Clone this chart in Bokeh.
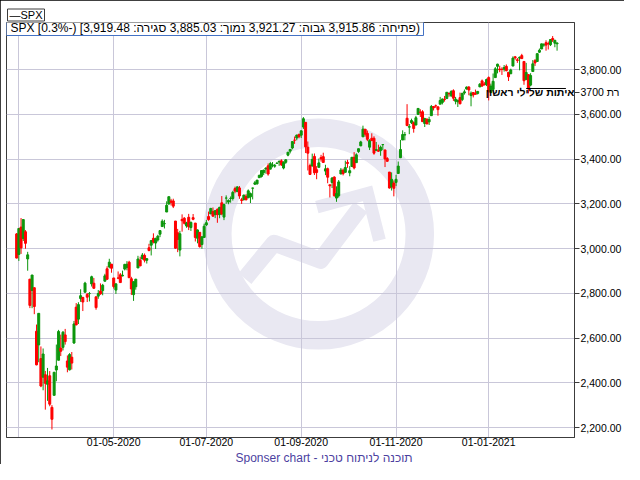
from bokeh.plotting import figure
from bokeh.models import (Range1d, FixedTicker, NumeralTickFormatter, Label, ColumnDataSource,
                          Title, BoxAnnotation)
from bokeh.embed import file_html
from bokeh.resources import INLINE

# ---------------- data (SPX daily candles) ----------------
dates = [
    "2020-02-28",
    "2020-03-02", "2020-03-03", "2020-03-04", "2020-03-05", "2020-03-06", "2020-03-09", "2020-03-10", "2020-03-11",
    "2020-03-12", "2020-03-13", "2020-03-16", "2020-03-17", "2020-03-18", "2020-03-19", "2020-03-20", "2020-03-23",
    "2020-03-24", "2020-03-25", "2020-03-26", "2020-03-27", "2020-03-30", "2020-03-31",
    "2020-04-01", "2020-04-02", "2020-04-03", "2020-04-06", "2020-04-07", "2020-04-08", "2020-04-09", "2020-04-13",
    "2020-04-14", "2020-04-15", "2020-04-16", "2020-04-17", "2020-04-20", "2020-04-21", "2020-04-22", "2020-04-23",
    "2020-04-24", "2020-04-27", "2020-04-28", "2020-04-29", "2020-04-30",
    "2020-05-01", "2020-05-04", "2020-05-05", "2020-05-06", "2020-05-07", "2020-05-08", "2020-05-11", "2020-05-12",
    "2020-05-13", "2020-05-14", "2020-05-15", "2020-05-18", "2020-05-19", "2020-05-20", "2020-05-21", "2020-05-22",
    "2020-05-26", "2020-05-27", "2020-05-28", "2020-05-29",
    "2020-06-01", "2020-06-02", "2020-06-03", "2020-06-04", "2020-06-05", "2020-06-08", "2020-06-09", "2020-06-10",
    "2020-06-11", "2020-06-12", "2020-06-15", "2020-06-16", "2020-06-17", "2020-06-18", "2020-06-19", "2020-06-22",
    "2020-06-23", "2020-06-24", "2020-06-25", "2020-06-26", "2020-06-29", "2020-06-30",
    "2020-07-01", "2020-07-02", "2020-07-06", "2020-07-07", "2020-07-08", "2020-07-09", "2020-07-10", "2020-07-13",
    "2020-07-14", "2020-07-15", "2020-07-16", "2020-07-17", "2020-07-20", "2020-07-21", "2020-07-22", "2020-07-23",
    "2020-07-24", "2020-07-27", "2020-07-28", "2020-07-29", "2020-07-30", "2020-07-31",
    "2020-08-03", "2020-08-04", "2020-08-05", "2020-08-06", "2020-08-07", "2020-08-10", "2020-08-11", "2020-08-12",
    "2020-08-13", "2020-08-14", "2020-08-17", "2020-08-18", "2020-08-19", "2020-08-20", "2020-08-21", "2020-08-24",
    "2020-08-25", "2020-08-26", "2020-08-27", "2020-08-28", "2020-08-31",
    "2020-09-01", "2020-09-02", "2020-09-03", "2020-09-04", "2020-09-08", "2020-09-09", "2020-09-10", "2020-09-11",
    "2020-09-14", "2020-09-15", "2020-09-16", "2020-09-17", "2020-09-18", "2020-09-21", "2020-09-22", "2020-09-23",
    "2020-09-24", "2020-09-25", "2020-09-28", "2020-09-29", "2020-09-30",
    "2020-10-01", "2020-10-02", "2020-10-05", "2020-10-06", "2020-10-07", "2020-10-08", "2020-10-09", "2020-10-12",
    "2020-10-13", "2020-10-14", "2020-10-15", "2020-10-16", "2020-10-19", "2020-10-20", "2020-10-21", "2020-10-22",
    "2020-10-23", "2020-10-26", "2020-10-27", "2020-10-28", "2020-10-29", "2020-10-30",
    "2020-11-02", "2020-11-03", "2020-11-04", "2020-11-05", "2020-11-06", "2020-11-09", "2020-11-10", "2020-11-11",
    "2020-11-12", "2020-11-13", "2020-11-16", "2020-11-17", "2020-11-18", "2020-11-19", "2020-11-20", "2020-11-23",
    "2020-11-24", "2020-11-25", "2020-11-27", "2020-11-30",
    "2020-12-01", "2020-12-02", "2020-12-03", "2020-12-04", "2020-12-07", "2020-12-08", "2020-12-09", "2020-12-10",
    "2020-12-11", "2020-12-14", "2020-12-15", "2020-12-16", "2020-12-17", "2020-12-18", "2020-12-21", "2020-12-22",
    "2020-12-23", "2020-12-24", "2020-12-28", "2020-12-29", "2020-12-30", "2020-12-31",
    "2021-01-04", "2021-01-05", "2021-01-06", "2021-01-07", "2021-01-08", "2021-01-11", "2021-01-12", "2021-01-13",
    "2021-01-14", "2021-01-15", "2021-01-19", "2021-01-20", "2021-01-21", "2021-01-22", "2021-01-25", "2021-01-26",
    "2021-01-27", "2021-01-28", "2021-01-29",
    "2021-02-01", "2021-02-02", "2021-02-03", "2021-02-04", "2021-02-05", "2021-02-08", "2021-02-09", "2021-02-10",
    "2021-02-11", "2021-02-12", "2021-02-16", "2021-02-17", "2021-02-18",
]

opens = [
    3066.0,
    2974.28, 3096.46, 3045.75, 3075.70, 2954.20, 2863.89, 2813.48, 2825.60, 2630.86, 2569.99, 2508.59, 2425.66,
    2436.50, 2393.48, 2431.94, 2290.71, 2344.44, 2457.77, 2501.29, 2555.87, 2558.98, 2614.69,
    2498.08, 2458.54, 2514.92, 2578.28, 2738.65, 2685.00, 2776.99, 2782.46, 2805.10, 2795.64, 2799.34, 2842.43,
    2845.62, 2784.81, 2787.89, 2810.42, 2812.64, 2854.65, 2909.96, 2918.46, 2930.91,
    2869.09, 2815.01, 2868.88, 2883.14, 2878.26, 2908.83, 2915.46, 2939.50, 2865.86, 2794.54, 2829.95, 2913.86,
    2948.59, 2953.63, 2969.95, 2948.05, 3004.08, 3015.65, 3046.61, 3025.17,
    3038.78, 3064.78, 3098.90, 3111.56, 3163.84, 3199.92, 3213.32, 3213.42, 3123.53, 3071.04, 2993.76, 3131.00,
    3136.13, 3101.64, 3140.29, 3094.42, 3138.70, 3114.40, 3046.60, 3073.20, 3018.59, 3050.20,
    3105.92, 3143.64, 3155.29, 3166.44, 3153.07, 3176.17, 3152.47, 3205.08, 3141.11, 3225.98, 3208.36, 3224.21,
    3224.29, 3268.52, 3254.86, 3271.64, 3218.58, 3219.84, 3234.27, 3227.22, 3231.76, 3270.45,
    3288.26, 3289.92, 3317.37, 3323.17, 3340.05, 3356.04, 3370.34, 3355.46, 3372.95, 3368.66, 3380.86, 3387.04,
    3392.51, 3360.48, 3386.01, 3418.09, 3435.95, 3449.97, 3485.14, 3494.69, 3509.73,
    3507.44, 3543.76, 3564.74, 3453.60, 3371.88, 3369.82, 3412.56, 3352.70, 3363.56, 3407.73, 3411.23, 3346.86,
    3357.38, 3285.57, 3295.75, 3320.11, 3226.14, 3236.66, 3333.90, 3350.92, 3341.21,
    3385.87, 3338.94, 3367.27, 3408.74, 3384.56, 3434.28, 3459.67, 3500.02, 3534.01, 3515.47, 3453.72, 3493.50,
    3493.66, 3439.38, 3439.91, 3438.50, 3464.90, 3441.42, 3403.15, 3342.48, 3277.17, 3293.59,
    3296.20, 3336.25, 3406.46, 3485.74, 3508.34, 3583.04, 3543.26, 3563.22, 3562.67, 3552.57, 3600.16, 3610.31,
    3612.09, 3559.41, 3579.31, 3566.82, 3594.52, 3635.50, 3638.55, 3634.18,
    3645.87, 3653.78, 3668.28, 3670.94, 3694.73, 3683.05, 3705.98, 3659.13, 3656.08, 3675.27, 3666.41, 3696.25,
    3713.65, 3722.39, 3684.28, 3698.08, 3693.42, 3694.03, 3723.03, 3750.01, 3736.19, 3733.27,
    3764.61, 3698.02, 3712.20, 3764.71, 3815.05, 3803.14, 3801.62, 3802.23, 3814.98, 3788.73, 3781.88, 3816.22,
    3857.46, 3844.24, 3851.68, 3862.96, 3836.83, 3755.75, 3778.05,
    3731.17, 3791.84, 3840.27, 3836.66, 3878.30, 3892.59, 3910.49, 3920.78, 3916.40, 3911.65, 3939.61, 3918.50,
    3915.86,
]

highs = [
    3070.0,
    3090.96, 3136.72, 3130.97, 3083.04, 2985.93, 2863.89, 2882.59, 2825.60, 2660.95, 2711.33, 2562.98, 2553.93,
    2453.57, 2466.97, 2453.01, 2300.73, 2449.71, 2571.42, 2637.01, 2615.91, 2631.80, 2641.39,
    2522.75, 2533.22, 2538.18, 2676.85, 2756.89, 2760.75, 2818.57, 2782.46, 2851.85, 2801.88, 2806.51, 2879.22,
    2868.98, 2785.54, 2815.10, 2844.90, 2842.71, 2887.72, 2921.15, 2954.86, 2930.91,
    2869.09, 2844.24, 2898.23, 2891.11, 2901.92, 2932.16, 2944.25, 2945.82, 2874.14, 2852.80, 2865.01, 2968.09,
    2964.21, 2980.29, 2978.50, 2956.76, 3021.72, 3036.25, 3068.67, 3049.17,
    3062.18, 3081.07, 3130.94, 3128.91, 3211.72, 3233.13, 3222.71, 3223.27, 3123.53, 3088.42, 3079.76, 3153.45,
    3141.16, 3120.00, 3155.53, 3120.92, 3154.90, 3115.01, 3086.25, 3073.73, 3053.89, 3111.51,
    3128.44, 3165.81, 3182.59, 3184.15, 3171.80, 3179.78, 3186.82, 3235.32, 3200.95, 3238.28, 3220.39, 3233.52,
    3258.61, 3277.29, 3279.32, 3279.99, 3227.26, 3241.43, 3243.72, 3264.74, 3250.92, 3272.17,
    3302.73, 3306.84, 3330.77, 3351.03, 3352.54, 3363.29, 3381.01, 3387.89, 3387.24, 3378.51, 3387.59, 3395.06,
    3399.54, 3390.80, 3399.96, 3432.09, 3444.21, 3481.07, 3501.38, 3509.23, 3514.77,
    3528.03, 3588.11, 3564.85, 3479.15, 3379.97, 3424.77, 3425.55, 3368.95, 3402.93, 3419.48, 3428.92, 3375.17,
    3362.27, 3285.57, 3320.31, 3323.35, 3278.70, 3306.88, 3360.74, 3357.92, 3393.56,
    3397.18, 3369.10, 3409.57, 3431.56, 3426.26, 3447.28, 3482.34, 3549.85, 3534.01, 3527.94, 3489.08, 3515.76,
    3502.42, 3476.93, 3464.86, 3460.53, 3466.46, 3441.42, 3409.51, 3342.48, 3341.05, 3304.93,
    3330.14, 3389.49, 3486.25, 3529.05, 3521.58, 3645.99, 3557.22, 3581.16, 3569.02, 3593.66, 3628.51, 3623.11,
    3619.09, 3585.22, 3581.23, 3589.81, 3642.31, 3635.50, 3644.31, 3634.18,
    3678.45, 3670.96, 3682.73, 3699.20, 3697.41, 3708.45, 3712.39, 3678.49, 3665.91, 3697.61, 3695.29, 3711.27,
    3725.12, 3726.70, 3702.90, 3698.26, 3711.24, 3703.82, 3740.51, 3756.12, 3744.63, 3760.20,
    3769.99, 3737.83, 3783.04, 3811.55, 3826.69, 3817.86, 3810.78, 3820.96, 3823.60, 3788.73, 3804.53, 3859.75,
    3861.45, 3852.31, 3859.23, 3870.90, 3836.83, 3830.50, 3778.05,
    3784.32, 3843.09, 3847.51, 3872.42, 3894.56, 3915.77, 3918.35, 3931.50, 3925.99, 3937.23, 3950.43, 3933.61,
    3921.27,
]

lows = [
    2957.0,
    2945.19, 2976.63, 3034.38, 2999.83, 2901.54, 2734.43, 2734.00, 2707.22, 2478.86, 2492.37, 2380.94, 2367.04,
    2280.52, 2319.78, 2295.56, 2191.86, 2344.44, 2407.53, 2500.72, 2520.02, 2545.28, 2571.15,
    2447.49, 2455.79, 2459.96, 2574.57, 2657.67, 2663.30, 2762.36, 2721.17, 2805.10, 2761.54, 2764.32, 2830.88,
    2820.43, 2727.10, 2775.95, 2794.26, 2791.76, 2852.89, 2860.71, 2912.16, 2892.47,
    2821.61, 2797.85, 2863.55, 2847.65, 2876.48, 2902.88, 2903.44, 2869.59, 2793.15, 2766.64, 2816.78, 2913.86,
    2922.35, 2953.63, 2938.57, 2933.59, 2988.17, 2969.75, 3023.40, 2998.61,
    3031.54, 3051.64, 3098.90, 3090.41, 3163.84, 3196.00, 3193.11, 3181.49, 2999.49, 2984.47, 2965.66, 3076.06,
    3108.03, 3093.51, 3083.11, 3079.39, 3127.12, 3032.13, 3024.01, 3004.63, 2999.74, 3047.83,
    3101.17, 3124.52, 3155.29, 3142.93, 3136.53, 3115.70, 3136.22, 3149.43, 3127.66, 3200.76, 3198.59, 3205.65,
    3215.16, 3247.77, 3253.10, 3222.66, 3200.05, 3214.25, 3216.17, 3227.22, 3204.13, 3220.26,
    3284.53, 3286.37, 3317.37, 3318.14, 3328.72, 3335.44, 3326.44, 3355.46, 3363.35, 3361.64, 3379.22, 3370.15,
    3369.66, 3354.69, 3379.31, 3413.13, 3425.84, 3444.15, 3468.35, 3484.32, 3493.25,
    3494.60, 3535.23, 3427.41, 3349.63, 3329.27, 3366.84, 3329.25, 3310.47, 3363.56, 3389.25, 3384.45, 3328.82,
    3292.40, 3229.10, 3270.95, 3232.57, 3209.45, 3228.44, 3332.91, 3327.54, 3340.47,
    3361.39, 3323.69, 3367.27, 3354.54, 3384.56, 3428.15, 3458.07, 3499.61, 3500.86, 3480.55, 3440.89, 3480.45,
    3419.93, 3435.65, 3433.06, 3415.34, 3440.45, 3364.86, 3388.71, 3268.89, 3259.82, 3233.94,
    3279.74, 3336.25, 3405.17, 3485.74, 3484.34, 3547.48, 3511.91, 3557.00, 3518.58, 3552.57, 3600.16, 3588.68,
    3567.33, 3543.84, 3556.85, 3552.77, 3594.52, 3617.76, 3629.33, 3594.39,
    3645.87, 3644.84, 3657.17, 3670.94, 3678.88, 3678.83, 3660.54, 3645.18, 3633.40, 3645.84, 3659.62, 3688.57,
    3710.87, 3685.84, 3636.48, 3676.16, 3689.28, 3689.32, 3723.03, 3723.31, 3730.21, 3726.88,
    3662.71, 3695.07, 3705.34, 3764.71, 3783.60, 3789.02, 3776.51, 3791.50, 3792.86, 3749.62, 3780.37, 3816.22,
    3845.05, 3830.41, 3797.16, 3847.78, 3732.48, 3755.75, 3694.12,
    3725.62, 3791.84, 3816.68, 3836.66, 3874.93, 3892.59, 3902.64, 3884.94, 3890.39, 3905.78, 3923.85, 3900.43,
    3885.03,
]

closes = [
    2958.0,
    3090.23, 3003.37, 3130.12, 3023.94, 2972.37, 2746.56, 2882.23, 2741.38, 2480.64, 2711.02, 2386.13, 2529.19,
    2398.10, 2409.39, 2304.92, 2237.40, 2447.33, 2475.56, 2630.07, 2541.47, 2626.65, 2584.59,
    2470.50, 2526.90, 2488.65, 2663.68, 2659.41, 2749.98, 2789.82, 2761.63, 2846.06, 2783.36, 2799.55, 2874.56,
    2823.16, 2736.56, 2799.31, 2797.80, 2836.74, 2878.48, 2863.39, 2939.51, 2912.43,
    2830.71, 2842.74, 2868.44, 2848.42, 2881.19, 2929.80, 2930.32, 2870.12, 2820.00, 2852.50, 2863.70, 2953.91,
    2922.94, 2971.61, 2948.51, 2955.45, 2991.77, 3036.13, 3029.73, 3044.31,
    3055.73, 3080.82, 3122.87, 3112.35, 3193.93, 3232.39, 3207.18, 3190.14, 3002.10, 3041.31, 3066.59, 3124.74,
    3113.49, 3115.34, 3097.74, 3117.86, 3131.29, 3050.33, 3083.76, 3009.05, 3053.24, 3100.29,
    3115.86, 3130.01, 3179.72, 3145.32, 3169.94, 3152.05, 3185.04, 3155.22, 3197.52, 3226.56, 3215.57, 3224.73,
    3251.84, 3257.30, 3276.02, 3235.66, 3215.63, 3239.41, 3218.44, 3258.44, 3246.22, 3271.12,
    3294.61, 3306.51, 3327.77, 3349.16, 3351.28, 3360.47, 3333.69, 3380.35, 3373.43, 3372.85, 3381.99, 3389.78,
    3374.85, 3385.51, 3397.16, 3431.28, 3443.62, 3478.73, 3484.55, 3508.01, 3500.31,
    3526.65, 3580.84, 3455.06, 3426.96, 3331.84, 3398.96, 3339.19, 3340.97, 3383.54, 3401.20, 3385.49, 3357.01,
    3319.47, 3281.06, 3315.57, 3236.92, 3246.59, 3298.46, 3351.60, 3335.47, 3363.00,
    3380.80, 3348.42, 3408.60, 3360.97, 3419.44, 3446.83, 3477.14, 3534.22, 3511.93, 3488.67, 3483.34, 3483.81,
    3426.92, 3443.12, 3435.56, 3453.49, 3465.39, 3400.97, 3390.68, 3271.03, 3310.11, 3269.96,
    3310.24, 3369.16, 3443.44, 3510.45, 3509.44, 3550.50, 3545.53, 3572.66, 3537.01, 3585.15, 3626.91, 3609.53,
    3567.79, 3581.87, 3557.54, 3577.59, 3635.41, 3629.65, 3638.35, 3621.63,
    3662.45, 3669.01, 3666.72, 3699.12, 3691.96, 3702.25, 3672.82, 3668.10, 3663.46, 3647.49, 3694.62, 3701.17,
    3722.48, 3709.41, 3694.92, 3687.26, 3690.01, 3703.06, 3735.36, 3727.04, 3732.04, 3756.07,
    3700.65, 3726.86, 3748.14, 3803.79, 3824.68, 3799.61, 3801.19, 3809.84, 3795.54, 3768.25, 3798.91, 3851.85,
    3853.07, 3841.47, 3855.36, 3849.62, 3750.77, 3787.38, 3714.24,
    3773.86, 3826.31, 3830.17, 3871.74, 3886.83, 3915.59, 3911.23, 3909.88, 3916.38, 3934.83, 3932.59, 3931.33,
    3919.48,
]

y_ticks = [2200, 2400, 2600, 2800, 3000, 3200, 3400, 3600, 3800]
x_tick_months = ["2020-03", "2020-05", "2020-07", "2020-09", "2020-11", "2021-01"]
x_tick_labels = ["", "01-05-2020", "01-07-2020", "01-09-2020", "01-11-2020", "01-01-2021"]

symbol = "SPX"
signal_text = "רת 3700 איתות שלילי ראשון"
signal_text_level = 3700
signal_level = 3716
signal_from = "2021-01-28"
footer_text = "Sponser chart - תוכנה לניתוח טכני"
label_open, label_high, label_low, label_close = "פתיחה", "גבוה", "נמוך", "סגירה"

assert len(dates) == len(opens) == len(highs) == len(lows) == len(closes)

# ---------------- styling ----------------
GREEN = "#0c960c"
RED = "#ff0000"
GRID = "#c9c7d9"
FRAME = "#3c3c3c"
WM = "#e9e8f2"
FONT = "Liberation Sans"

n = len(dates)
idx = list(range(n))
colors = [GREEN if c >= o else RED for o, c in zip(opens, closes)]
src = ColumnDataSource(dict(
    idx=idx, o=opens, h=highs, l=lows, c=closes,
    top=[max(o, c) for o, c in zip(opens, closes)],
    bottom=[min(o, c) for o, c in zip(opens, closes)],
    color=colors,
))

x_ticks = [next(i for i, d in enumerate(dates) if d.startswith(m)) for m in x_tick_months]

W, H = 624, 464
BL, BR, BT, BB = 6, 49, 22, 25
FW, FH = W - BL - BR, H - BT - BB
X0, X1 = -4.6, 252.9

p = figure(width=W, height=H, x_range=Range1d(X0, X1), y_range=Range1d(2156, 4011),
           y_axis_location="right", toolbar_location=None, output_backend="svg", title=None,
           min_border_left=BL, min_border_right=BR, min_border_top=BT, min_border_bottom=BB,
           background_fill_color="white", border_fill_color="white")

p.outline_line_color = FRAME
p.outline_line_width = 1

# the signal note is split: words inside the plot area, the price part beside the price scale
sig_words = signal_text.split(" ")
sig_axis_part = " ".join(sig_words[:2])
sig_frame_part = " ".join(sig_words[2:])

# axes
p.yaxis.ticker = FixedTicker(ticks=y_ticks + [signal_text_level])
p.yaxis.formatter = NumeralTickFormatter(format="0,0.00")
p.yaxis.major_label_overrides = {signal_text_level: sig_axis_part}
p.yaxis.axis_line_color = FRAME
p.yaxis.major_tick_line_color = FRAME
p.yaxis.major_tick_out = 5
p.yaxis.major_tick_in = 0
p.yaxis.minor_tick_line_color = None
p.yaxis.major_label_standoff = 1
p.yaxis.major_label_text_font = FONT
p.yaxis.major_label_text_font_size = "10.5px"
p.yaxis.major_label_text_color = "black"

p.xaxis.ticker = FixedTicker(ticks=x_ticks)
p.xaxis.major_label_overrides = {t: lab for t, lab in zip(x_ticks, x_tick_labels)}
p.xaxis.axis_line_color = FRAME
p.xaxis.major_tick_line_color = None
p.xaxis.major_tick_out = 0
p.xaxis.major_tick_in = 0
p.xaxis.minor_tick_line_color = None
p.xaxis.major_label_standoff = 0
p.xaxis.major_label_text_font = FONT
p.xaxis.major_label_text_font_size = "10.5px"
p.xaxis.major_label_text_color = "black"

p.xgrid.grid_line_color = GRID
p.ygrid.grid_line_color = GRID
p.ygrid.ticker = FixedTicker(ticks=y_ticks)

# watermark (normalised frame coordinates)
p.extra_x_ranges = {"wm": Range1d(0, 1)}
p.extra_y_ranges = {"wm": Range1d(0, 1)}
p.annulus(x=[0.5494], y=[0.4901], inner_radius=87, outer_radius=115.5,
          inner_radius_units="screen", outer_radius_units="screen",
          fill_color=WM, line_color=None, x_range_name="wm", y_range_name="wm", level="image")
p.line(x=[0.4198, 0.4711, 0.5529, 0.6235], y=[0.3830, 0.4683, 0.4267, 0.5550],
       line_color=WM, line_width=16.8, line_join="round", line_cap="butt",
       x_range_name="wm", y_range_name="wm", level="image")
p.line(x=[0.5464, 0.6357, 0.6567], y=[0.5552, 0.5881, 0.4753],
       line_color=WM, line_width=12.8, line_join="miter", line_cap="butt",
       x_range_name="wm", y_range_name="wm", level="image")

# candles
p.segment(x0="idx", y0="l", x1="idx", y1="h", source=src, line_color="color", line_width=1)
p.vbar(x="idx", width=0.9, top="top", bottom="bottom", source=src,
       fill_color="color", line_color="color", line_width=1)

# signal line + words
sig_i0 = dates.index(signal_from)
sig_i1 = n - 1 + 4
p.segment(x0=[sig_i0], y0=[signal_level], x1=[sig_i1], y1=[signal_level], line_color="black", line_width=1)
p.add_layout(Label(x=FW - 1, y=signal_text_level, x_units="screen", y_units="data", text=sig_frame_part,
                   text_font=FONT, text_font_size="10.5px", text_font_style="bold", text_color="black",
                   text_align="right", text_baseline="middle"))

# header box with last candle values
LRM = "\u200e"
pct = (closes[-1] / closes[-2] - 1) * 100
header_text = (f"{symbol} [{abs(pct):.1f}%{'-' if pct < 0 else ''}) [{closes[-1]:,.2f} :{label_close}{LRM}"
               f"  {lows[-1]:,.2f} :{label_low}{LRM}  {highs[-1]:,.2f} :{label_high}{LRM}"
               f"  {opens[-1]:,.2f} :{label_open})")

p.add_layout(BoxAnnotation(left=0, right=417, top=FH, bottom=FH - 15,
                           left_units="screen", right_units="screen", top_units="screen", bottom_units="screen",
                           fill_color="white", fill_alpha=1.0, line_color="#4472c4", line_alpha=1.0, line_width=1))
p.add_layout(Label(x=4, y=FH - 7.7, x_units="screen", y_units="screen", text=header_text,
                   text_font=FONT, text_font_size="12px", text_color="black",
                   text_align="left", text_baseline="middle"))

# legend-like box above the frame
p.add_layout(Title(text="\u2014" + symbol, align="left", offset=1, standoff=3,
                   text_font=FONT, text_font_size="11px", text_font_style="normal", text_color="black",
                   border_line_color=FRAME, border_line_width=1, background_fill_color="white",
                   padding=dict(left=2, right=2, top=0, bottom=0)), "above")

# footer
p.add_layout(Title(text=footer_text, align="left", offset=229, standoff=0,
                   text_font=FONT, text_font_size="12px", text_font_style="normal", text_color="#4c3f9f"),
             "below")

p.styles = {"outline": "1px solid black", "outline-offset": "-1px"}

open("out.html", "w").write(file_html(p, INLINE))
